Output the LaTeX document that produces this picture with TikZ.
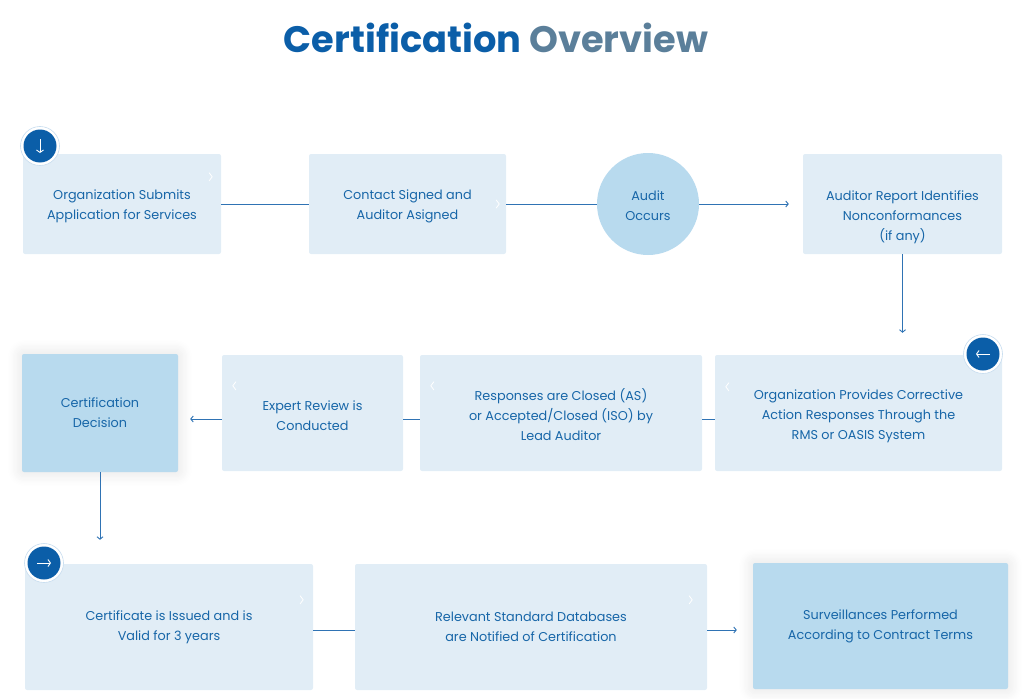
\documentclass[tikz,border=0pt]{standalone}
\usepackage{fontspec}
\setmainfont{Poppins}
\usetikzlibrary{arrows.meta, shadows.blur}

\definecolor{boxfill}{HTML}{E1EDF6}
\definecolor{boxdark}{HTML}{B8DAEE}
\definecolor{txtblue}{HTML}{1766A8}
\definecolor{titleblue}{HTML}{0B5EA8}
\definecolor{titlegray}{HTML}{5B7F9A}
\definecolor{lineblue}{HTML}{2F73B4}
\definecolor{ringblue}{HTML}{C6DCEF}

\begin{document}
\begin{tikzpicture}[x=1pt, y=-1pt,
    stepbox/.style={fill=boxfill, rounded corners=2pt, text=txtblue, align=center,
        font=\fontsize{12.8}{20}\selectfont, inner sep=0pt},
    darkbox/.style={stepbox, fill=boxdark,
        blur shadow={shadow xshift=0pt, shadow yshift=0pt, shadow blur radius=14pt,
        shadow opacity=12, shadow blur steps=12}},
    link/.style={draw=lineblue, line width=0.9pt},
    arr/.style={link, -{Straight Barb[length=2.5pt, width=6pt]}},
    chev/.style={draw=white, line width=0.8pt, line cap=round, line join=round},
    badge/.style={circle, minimum size=39pt, fill=white, draw=ringblue, line width=0.6pt,
        path picture={\fill[titleblue] (path picture bounding box.center) circle (16.5pt);}},
    badgearr/.style={draw=white, line width=0.9pt, -{Straight Barb[length=2.5pt, width=7pt]}}
    ]
    \useasboundingbox (0, 0) rectangle (1032, 698);

    \node (title) at (496, 38) {\fontsize{36.8}{37}\selectfont\bfseries
        \textcolor{titleblue}{Certification} \textcolor{titlegray}{Overview}};

    \node[stepbox, minimum width=198, minimum height=100] (org) at (122, 204)
        {\rule{0pt}{14pt}Organization Submits\\Application for Services};
    \node[stepbox, minimum width=197, minimum height=100] (contact) at (407.5, 204)
        {\rule{0pt}{14pt}Contact Signed and\\Auditor Asigned};
    \node[circle, fill=boxdark, minimum size=102, text=txtblue, align=center,
        font=\fontsize{12.8}{20}\selectfont, inner sep=0pt] (audit) at (648, 204)
        {\rule{0pt}{14pt}Audit\\Occurs};
    \node[stepbox, minimum width=199, minimum height=100] (report) at (902.5, 204)
        {\rule{0pt}{36pt}Auditor Report Identifies\\Nonconformances\\(if any)};

    \node[stepbox, minimum width=287, minimum height=116] (corrective) at (858.5, 413)
        {\rule{0pt}{16pt}Organization Provides Corrective\\Action Responses Through the\\RMS or OASIS System};
    \node[stepbox, minimum width=282, minimum height=116] (responses) at (561, 413)
        {\rule{0pt}{16pt}Responses are Closed (AS)\\or Accepted/Closed (ISO) by\\Lead Auditor};
    \node[stepbox, minimum width=181, minimum height=116] (expert) at (312.5, 413)
        {\rule{0pt}{16pt}Expert Review is\\Conducted};
    \node[darkbox, minimum width=156, minimum height=118] (decision) at (100, 413)
        {Certification\\Decision};

    \node[stepbox, minimum width=288, minimum height=126] (certificate) at (169, 627)
        {Certificate is Issued and is\\Valid for 3 years};
    \node[stepbox, minimum width=352, minimum height=126] (relevant) at (531, 627)
        {Relevant Standard Databases\\are Notified of Certification};
    \node[darkbox, minimum width=255, minimum height=126] (surveillance) at (880.5, 626)
        {Surveillances Performed\\According to Contract Terms};

    \draw[link] (org) -- (contact);
    \draw[link] (contact) -- (audit);
    \draw[arr, shorten >=14pt] (audit) -- (report);
    \draw[arr, shorten >=22pt] (report.south) -- (report.south |- corrective.north);
    \draw[link] ([yshift=-6pt]corrective.west) -- ([yshift=-6pt]responses.east);
    \draw[link] ([yshift=-6pt]responses.west) -- ([yshift=-6pt]expert.east);
    \draw[arr, shorten >=12pt] ([yshift=-6pt]expert.west) -- ([yshift=-6pt]decision.east);
    \draw[arr, shorten >=24pt] (decision.south) -- (decision.south |- certificate.north);
    \draw[link] ([yshift=-3pt]certificate.east) -- ([yshift=-3pt]relevant.west);
    \draw[arr, shorten >=16pt] ([yshift=-3pt]relevant.east) -- ([yshift=-3pt]relevant.east -| surveillance.west);

    \draw[chev] ([xshift=-12pt, yshift=-19pt]org.north east) -- ++(3, 4) -- ++(-3, 4);
    \draw[chev] ([xshift=-10pt, yshift=4pt]contact.east) -- ++(3, 4) -- ++(-3, 4);
    \draw[chev] ([xshift=14pt, yshift=-28pt]corrective.north west) -- ++(-3, 4) -- ++(3, 4);
    \draw[chev] ([xshift=14pt, yshift=-27pt]responses.north west) -- ++(-3, 4) -- ++(3, 4);
    \draw[chev] ([xshift=14pt, yshift=-27pt]expert.north west) -- ++(-3, 4) -- ++(3, 4);
    \draw[chev] ([xshift=-13pt, yshift=-32pt]certificate.north east) -- ++(3, 4) -- ++(-3, 4);
    \draw[chev] ([xshift=-18pt, yshift=-32pt]relevant.north east) -- ++(3, 4) -- ++(-3, 4);

    \node[badge] (startbadge) at (40, 146) {};
    \draw[badgearr] ([yshift=7pt]startbadge.center) -- ([yshift=-7pt]startbadge.center);
    \node[badge] (backbadge) at (983, 354) {};
    \draw[badgearr] ([xshift=7pt]backbadge.center) -- ([xshift=-7pt]backbadge.center);
    \node[badge] (nextbadge) at (44, 563) {};
    \draw[badgearr] ([xshift=-7pt]nextbadge.center) -- ([xshift=7pt]nextbadge.center);
\end{tikzpicture}
\end{document}
